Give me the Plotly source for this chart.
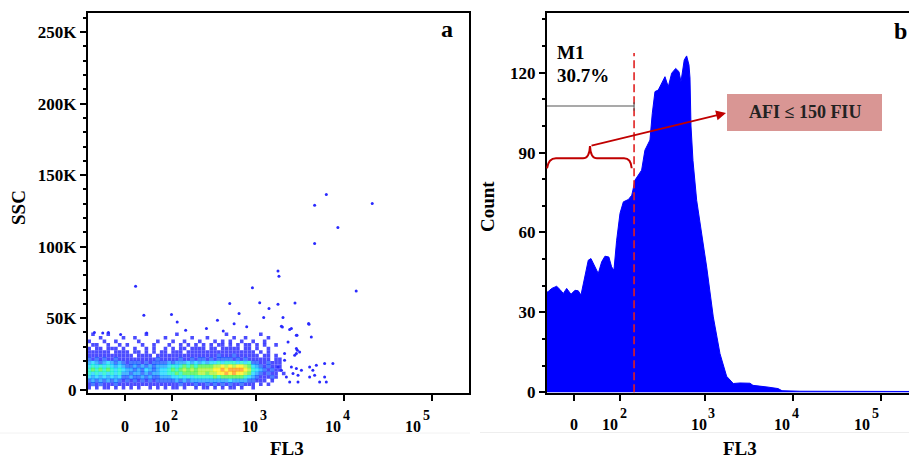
import numpy as np
import plotly.graph_objects as go

W, H = 909, 460

# ---------------------------------------------------------------- data
# FL3 is shown on a biexponential (arcsinh) display with a linear width of 65
FL3_WIDTH = 65.0

# Panel b: FL3 histogram (channel value, event count)
hist_fl3 = [-80, -48, -40, -30.5, -24.4, -18.4, -12.5, -5.1, 1.7, 7.3, 12, 17.7,
            24.9, 29.9, 37.6, 44.2, 51.4, 58.7, 68, 74.9, 81.1, 88.7, 98.7, 109.5,
            127.4, 140.5, 154.3, 169.1, 185.4, 203.1, 233, 248.2, 267, 291.9, 319.7,
            349, 381, 416.9, 463.5, 505.7, 533, 581, 619, 658, 676, 694, 731, 806,
            1048, 1246, 1485, 1768, 2103, 2509, 3257, 3523, 5083, 6780, 7527, 12050,
            262000]
hist_count = [38, 37.7, 39.0, 39.8, 38.6, 37.1, 39.0, 36.8, 38.3, 38.1, 36.5, 42.1,
              49.6, 50.2, 47.1, 44.6, 49.0, 51.1, 50.8, 47.1, 45.8, 57.1, 67.2, 71.5,
              72.4, 74.0, 79.7, 81.5, 83.4, 90.9, 94.7, 104.7, 112.9, 113.5, 116.0,
              118.5, 114.7, 119.8, 121.6, 120.4, 116.6, 124.8, 126.3, 122.9, 118, 100,
              87, 72, 47, 28.3, 14.5, 6, 3.3, 3.5, 3.4, 2.6, 2.0, 1.4, 0.6, 0.4, 0.3]

# M1 marker / gate
gate_fl3 = 150
m1_level = 107.5
m1_name = "M1"
m1_percent = "30.7%"
afi_label = "AFI ≤ 150 FIU"

# Panel a: pseudocolour density of the main population.
# Rows run from SSC 37.5-40K (top) down to 0-2.5K; columns are 0.1-wide steps of the
# FL3 display scale starting at -1.0.  '.' = no events, 1..9 = density level.
density_rows = [
    ".1...1...." + ".....1...." + "...1......" + "......1..." + ".....1...." + "..",
    "...1.....1" + "..1......." + "1......1.." + ".1......1." + ".1.....1.." + "..",
    "1...1..1.." + "...1....1." + "..1..1...1" + "...1.1.1.." + "1..1..1..." + "..",
    ".11..1..1." + "1...1..1.." + ".1..1.1.1." + "1.1.11.1.1" + ".11.1.1..1" + "..",
    "1.11.111.1" + "..1..1.1.." + "1.1.11.111" + "1.11.11111" + ".11.1..1.." + "..",
    "111111.111" + "1.11.1.1.1" + "1.111.1111" + "1111111111" + "1111.1.1.." + "..",
    "1111111111" + "11.1111.11" + "1111111111" + "1111211121" + "11111.11.1" + "..",
    "2121211211" + "1111111121" + "1111211212" + "2121222212" + "12111111.1" + "1.",
    "3432343232" + "1222121222" + "2323334343" + "4344545554" + "5452211211" + "1.",
    "4545454343" + "2232323233" + "3454565656" + "6667787878" + "8764321211" + "1.",
    "5656565454" + "3323243234" + "4565676767" + "7778898999" + "9875432121" + "1.",
    "5454545453" + "3233232334" + "4556566667" + "7677889898" + "8764321211" + ".1",
    "4343434342" + "2322323223" + "3344545455" + "5556566666" + "6543211121" + "..",
    "2323232321" + "2121212122" + "2223232333" + "3333333433" + "3322111.1." + "..",
    "1212111211" + "1111111111" + "1111211121" + "1212121211" + "2111.1.1.." + "..",
    "1.1.11.1.1" + ".1.1..1.1." + "1.11.1..1." + "11.1.1.11." + "1..1......" + "..",
]
density_u0 = -1.0
density_du = 0.1
density_dssc = 2500
density_colors = ["#0000ff", "#0046ff", "#0096ff", "#00d2ff", "#00f0c0",
                  "#3cf03c", "#a5f01e", "#ffee00", "#ff8c00"]

# isolated events outside the dense cloud (FL3, SSC)
sparse_fl3 = [17.6, 4640, 6300, 21000, 8540, 4640, 13800, 1774, 1820, 907,
              32.7, 38, 99, 118, 499, 638, 1098, 1401, 1774, 2770,
              1220, 2022, 1990, 2520, 2873, 3963, 4250, 2950, 2873, 360,
              -30, -59, -41, -8.2, 151, 268, 420, 780, 560,
              1940, 2410, 2920, 4000, 2873, 3130, 2750, 2110, 2520, 2873,
              3280, 2630, 3000, 2210, 2410, 3000, 4070, 4430, 4850, 4640,
              4070, 5290, 6030, 6030, 6300, 7490, 1940, 1774, 2110, 2310]
sparse_ssc = [72300, 129000, 136400, 130200, 113400, 102200, 69000, 83000, 79300, 71200,
              52000, 39600, 52500, 47300, 60200, 53200, 60700, 56700, 59700, 60600,
              50400, 50400, 43800, 42700, 38000, 46200, 36800, 27500, 25200, 48500,
              39900, 39900, 39500, 38500, 41500, 42700, 41000, 44000, 46000,
              44300, 42000, 38000, 45700, 28700, 26300, 24000, 20500, 15800, 14700,
              13500, 11200, 10000, 8800, 5300, 5300, 15800, 13500, 17000, 10000,
              8800, 5300, 18200, 8800, 5300, 18200, 13500, 15800, 25200, 33300]

# axis ticks
x_major = [0, 100, 1000, 10000, 100000]
x_major_base = ["0", "10", "10", "10", "10"]
x_major_exp = ["", "2", "3", "4", "5"]
x_minor = ([-v for v in range(10, 100, 10)] + list(range(10, 100, 10))
           + list(range(200, 1000, 100)) + list(range(2000, 10000, 1000))
           + list(range(20000, 100000, 10000)) + [200000])
ssc_ticks = [0, 50000, 100000, 150000, 200000, 250000]
ssc_text = ["0", "50K", "100K", "150K", "200K", "250K"]
count_ticks = [0, 30, 60, 90, 120]

# label placement (pixel shifts of base / exponent relative to each major tick)
label_shift = [(0, 0), (-10, 3), (-6, 7), (-11, 3), (-19, -5)]


# ---------------------------------------------------------------- helpers
def biex(v):
    return np.arcsinh(np.asarray(v, dtype=float) / FL3_WIDTH)


def px(x):
    return x / W


def py(y):
    return 1 - y / H


FONT = "Liberation Serif"
ydom = [py(393.3), py(13.3)]

fig = go.Figure()

# density cells as small square markers, one per occupied bin
cell_u, cell_s, cell_c, cell_size = [], [], [], []
nrows = len(density_rows)
for r, row in enumerate(density_rows):
    j = nrows - 1 - r
    for i, ch in enumerate(row):
        if ch == ".":
            continue
        lvl = int(ch)
        cell_u.append(density_u0 + (i + 0.5) * density_du)
        cell_s.append((j + 0.5) * density_dssc)
        cell_c.append(density_colors[lvl - 1])
        cell_size.append(3.6 if lvl == 1 else 4.2)

fig.add_trace(go.Scatter(
    x=cell_u, y=cell_s, mode="markers",
    marker=dict(symbol="square", size=cell_size, color=cell_c, line=dict(width=0)),
    hoverinfo="skip", xaxis="x", yaxis="y", showlegend=False))

fig.add_trace(go.Scatter(
    x=biex(sparse_fl3), y=sparse_ssc, mode="markers",
    marker=dict(size=3, color="#2a2aff", line=dict(width=0)),
    hoverinfo="skip", xaxis="x", yaxis="y", showlegend=False))

fig.add_trace(go.Scatter(
    x=biex(hist_fl3), y=hist_count, mode="lines", fill="tozeroy",
    fillcolor="#0000ff", line=dict(color="#0000ff", width=1),
    hoverinfo="skip", xaxis="x2", yaxis="y2", showlegend=False))

tickfont_y = dict(family=FONT, size=17, color="black", weight="bold")

xa_range = [float(biex(-74.5)), float(biex(262144))]
xb_range = [float(biex(-49.8)), float(biex(-49.8)) + (909 - 547) / 38.2]

common_x = dict(showline=True, linecolor="black", linewidth=2, ticks="outside",
                ticklen=6, tickwidth=1.5, tickcolor="black", showgrid=False,
                zeroline=False, tickmode="array", tickvals=biex(x_major).tolist(),
                showticklabels=False, automargin=False)
minor_x = dict(showline=False, ticks="outside", ticklen=3, tickwidth=1,
               tickcolor="black", showgrid=False, zeroline=False,
               tickmode="array", tickvals=biex(x_minor).tolist(),
               showticklabels=False, automargin=False)
common_y = dict(showline=True, linecolor="black", linewidth=2, ticks="outside",
                ticklen=6, tickwidth=1.5, tickcolor="black", showgrid=False,
                zeroline=False, tickfont=tickfont_y, automargin=False)

fig.update_layout(
    template="none",
    width=W, height=H, margin=dict(l=0, r=0, t=0, b=0, pad=0), autosize=False,
    paper_bgcolor="white", plot_bgcolor="white", showlegend=False,
    xaxis=dict(domain=[px(88), px(468.5)], range=xa_range, anchor="y",
               mirror=True, **common_x),
    yaxis=dict(domain=ydom, range=[-2600, 263200], anchor="x", mirror=True,
               tickmode="array", tickvals=ssc_ticks, ticktext=ssc_text,
               minor=dict(dtick=10000, tick0=0, ticks="outside", ticklen=3,
                          tickcolor="black", showgrid=False),
               **common_y),
    xaxis2=dict(domain=[px(547), 1.0], range=xb_range, anchor="y2",
                mirror=True, **common_x),
    yaxis2=dict(domain=ydom, range=[-0.38, 142.3], anchor="x2", mirror=False,
                tickmode="array", tickvals=count_ticks,
                ticktext=[str(v) for v in count_ticks],
                minor=dict(dtick=10, tick0=0, ticks="outside", ticklen=3,
                           tickcolor="black", showgrid=False),
                **common_y),
    xaxis3=dict(overlaying="x", anchor="y", range=xa_range, **minor_x),
    xaxis4=dict(overlaying="x2", anchor="y2", range=xb_range, **minor_x),
)

# gate line at 150 FIU and M1 marker
fig.add_shape(type="line", xref="x2", yref="y2",
              x0=float(biex(gate_fl3)), x1=float(biex(gate_fl3)), y0=0, y1=127.4,
              line=dict(color="#e02020", width=1.6, dash="8px,4px"))
fig.add_shape(type="line", xref="x2", yref="y2",
              x0=xb_range[0], x1=float(biex(gate_fl3)), y0=m1_level, y1=m1_level,
              line=dict(color="#555555", width=1.1))
fig.add_shape(type="line", xref="x2", yref="y2",
              x0=float(biex(gate_fl3)), x1=float(biex(gate_fl3)),
              y0=m1_level - 1.8, y1=m1_level + 1.4,
              line=dict(color="#555555", width=1.1))


# curly brace over the M1 region
def P(x, y):
    return f"{px(x):.5f},{py(y):.5f}"


brace = (f"M {P(547, 168.3)} Q {P(548.5, 158.3)} {P(556, 158.3)} L {P(583, 158.3)} "
         f"Q {P(589.5, 158.3)} {P(590, 146)} Q {P(590.5, 158.3)} {P(597, 158.3)} "
         f"L {P(624, 158.3)} Q {P(631, 158.3)} {P(631.7, 168.3)}")
fig.add_shape(type="path", xref="paper", yref="paper", path=brace,
              line=dict(color="#c00000", width=2))

# label box
fig.add_shape(type="rect", xref="paper", yref="paper",
              x0=px(727), x1=px(882), y0=py(131), y1=py(94),
              fillcolor="#d99694", line=dict(width=0))

# faint panel boundaries
fig.add_shape(type="line", xref="paper", yref="paper", x0=px(480), x1=1,
              y0=py(432.5), y1=py(432.5), line=dict(color="#eeeeee", width=1))
fig.add_shape(type="line", xref="paper", yref="paper", x0=px(0), x1=px(470),
              y0=py(433), y1=py(433), line=dict(color="#f2f2f2", width=1))

ann = []


def text(x, y, s, size, angle=0, xanchor="center", color="black"):
    ann.append(dict(x=px(x), y=py(y), xref="paper", yref="paper", text=s,
                    showarrow=False, textangle=angle, xanchor=xanchor,
                    yanchor="middle",
                    font=dict(family=FONT, size=size, color=color, weight="bold")))


# decade labels under both FL3 axes
for xref, base_y in (("x", 426.5), ("x2", 424.5)):
    for v, base, exp, (sb, se) in zip(x_major, x_major_base, x_major_exp, label_shift):
        xv = float(biex(v))
        ann.append(dict(x=xv, y=py(base_y), xref=xref, yref="paper", text=base,
                        showarrow=False, xanchor="center", yanchor="middle",
                        xshift=sb,
                        font=dict(family=FONT, size=16, color="black", weight="bold")))
        if exp:
            ann.append(dict(x=xv, y=py(base_y - 11), xref=xref, yref="paper",
                            text=exp, showarrow=False, xanchor="center",
                            yanchor="middle", xshift=se,
                            font=dict(family=FONT, size=14, color="black",
                                      weight="bold")))

text(447, 29, "a", 24)
text(900, 31, "b", 24)
text(287, 448.5, "FL3", 19)
text(740, 448, "FL3", 19)
text(18, 208, "SSC", 19, angle=-90)
text(488, 207, "Count", 19, angle=-90)
text(555, 52, m1_name, 19, xanchor="left")
text(555, 75, m1_percent, 19, xanchor="left")
text(804.5, 112.5, afi_label, 18, color="#222222")

ann.append(dict(x=px(726), y=py(113), xref="paper", yref="paper", text="",
                showarrow=True, ax=-136, ay=33, arrowhead=2, arrowsize=1.1,
                arrowwidth=1.8, arrowcolor="#c00000", standoff=0))

fig.update_layout(annotations=ann)

fig.write_html("out.html")
